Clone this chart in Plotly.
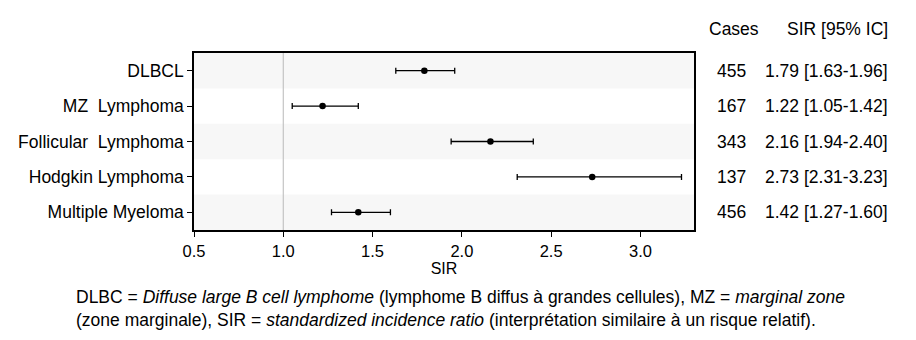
import plotly.graph_objects as go

categories = ["DLBCL", "MZ  Lymphoma", "Follicular  Lymphoma", "Hodgkin Lymphoma", "Multiple Myeloma"]
sir = [1.79, 1.22, 2.16, 2.73, 1.42]
ci_low = [1.63, 1.05, 1.94, 2.31, 1.27]
ci_high = [1.96, 1.42, 2.40, 3.23, 1.60]
cases = [455, 167, 343, 137, 456]
x_ticks = [0.5, 1.0, 1.5, 2.0, 2.5, 3.0]
x_tick_labels = ["0.5", "1.0", "1.5", "2.0", "2.5", "3.0"]

FONT = "Arial, Liberation Sans, sans-serif"
TXT = 17.5
ypos = list(range(len(categories)))

fig = go.Figure()

# alternating bands
shapes = []
for i in ypos:
    if i % 2 == 0:
        shapes.append(dict(type="rect", xref="paper", yref="y", x0=0, x1=1,
                           y0=i - 0.5, y1=i + 0.5, fillcolor="#f7f7f7",
                           line=dict(width=0), layer="below"))
shapes.append(dict(type="line", xref="x", yref="paper", x0=1.0, x1=1.0, y0=0, y1=1,
                   line=dict(color="#c4c4c4", width=1.2), layer="below"))

fig.add_trace(go.Scatter(
    x=sir, y=ypos, mode="markers",
    marker=dict(color="black", size=6.5),
    error_x=dict(type="data", symmetric=False,
                 array=[h - s for h, s in zip(ci_high, sir)],
                 arrayminus=[s - l for s, l in zip(sir, ci_low)],
                 color="black", thickness=1.3, width=3),
    showlegend=False, hoverinfo="skip"))

ann = []
def px_to_paper(px):
    return (px - 194) / 500.0

ann.append(dict(text="Cases", xref="paper", yref="paper", x=px_to_paper(734), y=(230 - 29) / 177,
                xanchor="center", yanchor="middle", showarrow=False,
                font=dict(family=FONT, size=TXT, color="black")))
ann.append(dict(text="SIR [95% IC]", xref="paper", yref="paper", x=px_to_paper(890), y=(230 - 29) / 177,
                xanchor="right", yanchor="middle", showarrow=False,
                font=dict(family=FONT, size=TXT, color="black")))
for i in ypos:
    ann.append(dict(text=str(cases[i]), xref="paper", yref="y", x=px_to_paper(748), y=i,
                    xanchor="right", yanchor="middle", showarrow=False,
                    font=dict(family=FONT, size=TXT, color="black")))
    ann.append(dict(text=f"{sir[i]:.2f} [{ci_low[i]:.2f}-{ci_high[i]:.2f}]", xref="paper", yref="y",
                    x=px_to_paper(890), y=i, xanchor="right", yanchor="middle", showarrow=False,
                    font=dict(family=FONT, size=TXT, color="black")))

foot = ("DLBC = <i>Diffuse large B cell lymphome</i> (lymphome B diffus à grandes cellules), MZ = <i>marginal zone</i><br>"
        "(zone marginale), SIR = <i>standardized incidence ratio</i> (interprétation similaire à un risque relatif).")
ann.append(dict(text=foot, xref="paper", yref="paper", x=px_to_paper(74), y=(230 - 285) / 177,
                xanchor="left", yanchor="top", align="left", showarrow=False,
                font=dict(family=FONT, size=TXT, color="black")))

fig.update_layout(
    width=916, height=340,
    margin=dict(l=194, r=222, t=53, b=110),
    plot_bgcolor="white", paper_bgcolor="white",
    shapes=shapes, annotations=ann,
    font=dict(family=FONT, color="black"),
    xaxis=dict(range=[0.5, 3.3], tickvals=x_ticks, ticktext=x_tick_labels,
               showgrid=False, zeroline=False, showline=True, linecolor="black",
               linewidth=1.5, mirror=True, ticks="outside", ticklen=5, tickcolor="black",
               tickfont=dict(size=16.5, family=FONT),
               title=dict(text="SIR", font=dict(size=16, family=FONT), standoff=1)),
    yaxis=dict(range=[4.5, -0.5], tickvals=ypos, ticktext=categories,
               showgrid=False, zeroline=False, showline=True, linecolor="black",
               linewidth=1.5, mirror=True, ticks="outside", ticklen=5, tickcolor="black",
               tickfont=dict(size=TXT, family=FONT)),
)

fig.write_html("out.html")
